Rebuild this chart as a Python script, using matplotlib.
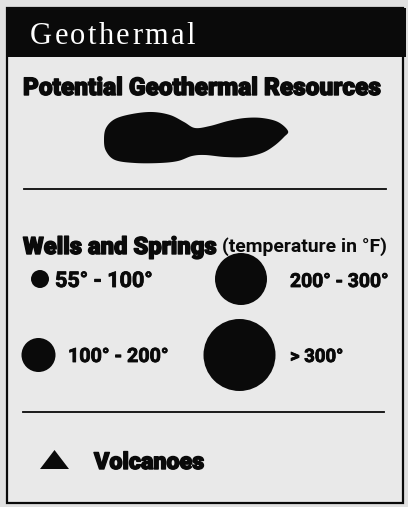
import numpy as np
import matplotlib
matplotlib.use("Agg")
import matplotlib.pyplot as plt
import matplotlib.patheffects as pe
from matplotlib.patches import Rectangle, Circle, Polygon

# ---- content ----
title = "Geothermal"
section1 = "Potential Geothermal Resources"
section2 = "Wells and Springs"
section2_note = "(temperature in °F)"
well_labels = ["55° - 100°", "100° - 200°", "200° - 300°", "> 300°"]
volcano_label = "Volcanoes"

W, H = 408, 507
fig = plt.figure(figsize=(W / 100, H / 100), dpi=100)
fig.patch.set_facecolor("#e1e1e1")
ax = fig.add_axes([0, 0, 1, 1])
ax.set_xlim(0, W)
ax.set_ylim(H, 0)
ax.axis("off")
renderer = fig.canvas.get_renderer()

INK = "#0a0a0a"
BODY = "#e9e9e9"

# frame and header
ax.add_patch(Rectangle((7, 8), 396, 495, fc=BODY, ec=INK, lw=1.6, zorder=1))
ax.add_patch(Rectangle((7, 8), 399, 49, fc=INK, ec="none", zorder=2))

HEAVY = dict(family=["Roboto", "DejaVu Sans"], fontweight="black", color=INK,
             path_effects=[pe.withStroke(linewidth=1.0, foreground=INK)])
NARROW = dict(family=["Liberation Sans Narrow", "Roboto", "DejaVu Sans"],
              fontweight="bold", color=INK,
              path_effects=[pe.withStroke(linewidth=0.6, foreground=INK)])
NOTE = dict(family=["Liberation Sans Narrow", "Roboto", "DejaVu Sans"],
            fontweight="bold", color=INK)


def fit_text(x0, x1, y, s, **kw):
    t = ax.text(x0, y, s, ha="left", va="baseline", fontsize=12, zorder=5, **kw)
    bb = t.get_window_extent(renderer)
    t.set_fontsize(12 * (x1 - x0) / bb.width)
    return t


def tracked_text(x0, x1, y, s, size, **kw):
    # place characters individually with extra letter spacing
    widths = []
    for ch in s:
        t = ax.text(0, 0, ch, fontsize=size, **kw)
        widths.append(t.get_window_extent(renderer).width)
        t.remove()
    gap = ((x1 - x0) - sum(widths)) / (len(s) - 1)
    x = x0
    for ch, w in zip(s, widths):
        ax.text(x, y, ch, fontsize=size, ha="left", va="baseline", zorder=5, **kw)
        x += w + gap


tracked_text(30, 195, 44, title, 22, family=["Liberation Serif", "DejaVu Serif"],
             color="white")

fit_text(23, 380, 95, section1, **HEAVY)

# blob (potential resources area) outline, smoothed with a closed Catmull-Rom spline
pts = np.array([(104, 140), (106, 128), (115, 119), (132, 114), (152, 112), (170, 115),
                (184, 122), (195, 128), (210, 126), (228, 121), (245, 118), (262, 118),
                (278, 122), (288, 131), (284, 137), (274, 146), (262, 153), (245, 157),
                (225, 157), (205, 155), (192, 156), (178, 161), (160, 163), (135, 163),
                (115, 160), (106, 151)], dtype=float)
n = len(pts)
curve = []
for i in range(n):
    p0, p1, p2, p3 = pts[i - 1], pts[i], pts[(i + 1) % n], pts[(i + 2) % n]
    for t in np.linspace(0, 1, 12, endpoint=False):
        t2, t3 = t * t, t * t * t
        curve.append(0.5 * ((2 * p1) + (-p0 + p2) * t + (2 * p0 - 5 * p1 + 4 * p2 - p3) * t2
                            + (-p0 + 3 * p1 - 3 * p2 + p3) * t3))
ax.add_patch(Polygon(np.array(curve), closed=True, fc=INK, ec="none", zorder=3))

# separators
ax.plot([24, 386], [189, 189], color=INK, lw=1.3, zorder=3)
ax.plot([23, 384], [412, 412], color=INK, lw=1.3, zorder=3)

fit_text(23, 216, 254, section2, **HEAVY)
fit_text(222, 386, 252, section2_note, **NOTE)

# wells and springs symbols
ax.add_patch(Circle((40, 279), 9, fc=INK, ec="none", zorder=3))
ax.add_patch(Circle((38.5, 355), 17, fc=INK, ec="none", zorder=3))
ax.add_patch(Circle((241, 279), 26, fc=INK, ec="none", zorder=3))
ax.add_patch(Circle((239.5, 355), 36, fc=INK, ec="none", zorder=3))

fit_text(55, 152, 287, well_labels[0], **NARROW)
fit_text(68, 168, 362, well_labels[1], **NARROW)
fit_text(290, 388, 287, well_labels[2], **NARROW)
fit_text(290, 343, 362, well_labels[3], **NARROW)

# volcano
ax.add_patch(Polygon([(40, 469), (69, 469), (54.5, 450)], closed=True, fc=INK, ec="none",
                     zorder=3))
fit_text(94, 204, 469, volcano_label, **HEAVY)

fig.savefig("out.png", dpi=100, facecolor=fig.get_facecolor())
